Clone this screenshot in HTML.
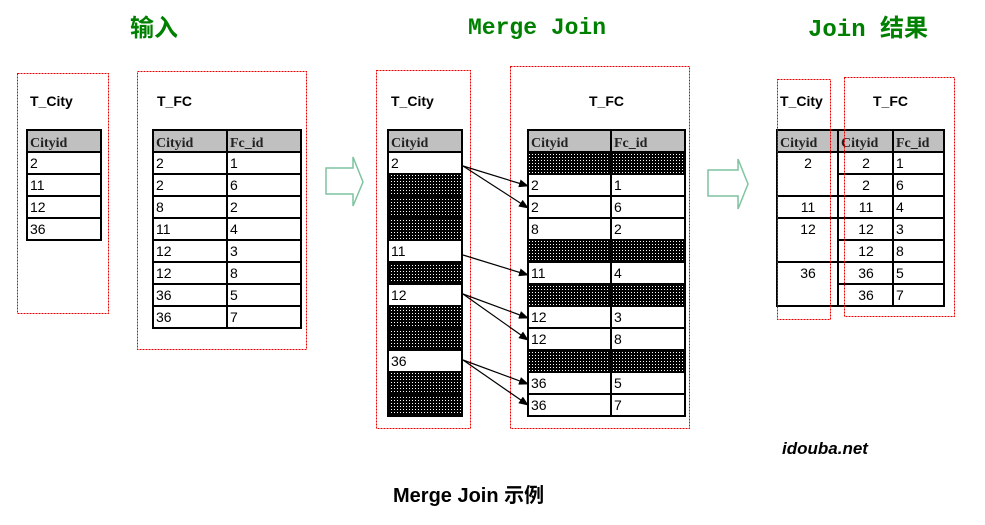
<!DOCTYPE html>
<html><head><meta charset="utf-8"><style>
html,body{margin:0;padding:0;background:#fff;width:985px;height:525px;overflow:hidden}
svg{display:block}
.h{font-family:"Liberation Serif",serif;font-weight:bold;font-size:14px;fill:#222}
.v{font-family:"Liberation Sans",sans-serif;font-size:14px;fill:#000}
.t{font-family:"Liberation Sans",sans-serif;font-weight:bold;font-size:14px;fill:#000}
.g{font-family:"Liberation Mono","Noto Sans CJK SC",monospace;font-weight:bold;font-size:23px;fill:#008000}
.b{fill:none;stroke:#e00;stroke-width:1;stroke-dasharray:2,1}
.c{fill:#fff;stroke:#000;stroke-width:2}
.hd{fill:#c0c0c0;stroke:#000;stroke-width:2}
.dk{fill:url(#dots);stroke:#000;stroke-width:2}
.a{stroke:#000;stroke-width:1.2;marker-end:url(#ah)}
</style></head><body>
<svg width="985" height="525" viewBox="0 0 985 525">
<defs>
<pattern id="dots" width="3" height="3" patternUnits="userSpaceOnUse"><rect width="3" height="3" fill="#000"/><rect x="1" y="1" width="1" height="1" fill="#fff"/></pattern>
<marker id="ah" markerWidth="10" markerHeight="8" refX="9" refY="4" orient="auto" markerUnits="userSpaceOnUse"><path d="M0,0 L10,4 L0,8z" fill="#000"/></marker>
</defs>
<text x="130" y="36" class="g" style="font-family:'Noto Sans CJK SC',sans-serif;font-size:24px">输入</text>
<text x="468" y="34" class="g">Merge Join</text>
<text x="808" y="36" class="g" style="font-size:24px">Join 结果</text>

<!-- left -->
<rect x="17.5" y="73.5" width="91" height="240" class="b"/>
<rect x="137.5" y="71.5" width="169" height="278" class="b"/>
<text x="30" y="106" class="t">T_City</text>
<text x="157" y="106" class="t">T_FC</text>
<rect x="27" y="130" width="74" height="22" class="hd"/><text x="30" y="147" class="h">Cityid</text>
<rect x="27" y="152" width="74" height="22" class="c"/><text x="30" y="168" class="v">2</text>
<rect x="27" y="174" width="74" height="22" class="c"/><text x="30" y="190" class="v">11</text>
<rect x="27" y="196" width="74" height="22" class="c"/><text x="30" y="212" class="v">12</text>
<rect x="27" y="218" width="74" height="22" class="c"/><text x="30" y="234" class="v">36</text>

<rect x="153" y="130" width="74" height="22" class="hd"/><text x="156" y="147" class="h">Cityid</text>
<rect x="227" y="130" width="74" height="22" class="hd"/><text x="230" y="147" class="h">Fc_id</text>
<g>
<rect x="153" y="152" width="74" height="22" class="c"/><rect x="227" y="152" width="74" height="22" class="c"/><text x="156" y="168" class="v">2</text><text x="230" y="168" class="v">1</text>
<rect x="153" y="174" width="74" height="22" class="c"/><rect x="227" y="174" width="74" height="22" class="c"/><text x="156" y="190" class="v">2</text><text x="230" y="190" class="v">6</text>
<rect x="153" y="196" width="74" height="22" class="c"/><rect x="227" y="196" width="74" height="22" class="c"/><text x="156" y="212" class="v">8</text><text x="230" y="212" class="v">2</text>
<rect x="153" y="218" width="74" height="22" class="c"/><rect x="227" y="218" width="74" height="22" class="c"/><text x="156" y="234" class="v">11</text><text x="230" y="234" class="v">4</text>
<rect x="153" y="240" width="74" height="22" class="c"/><rect x="227" y="240" width="74" height="22" class="c"/><text x="156" y="256" class="v">12</text><text x="230" y="256" class="v">3</text>
<rect x="153" y="262" width="74" height="22" class="c"/><rect x="227" y="262" width="74" height="22" class="c"/><text x="156" y="278" class="v">12</text><text x="230" y="278" class="v">8</text>
<rect x="153" y="284" width="74" height="22" class="c"/><rect x="227" y="284" width="74" height="22" class="c"/><text x="156" y="300" class="v">36</text><text x="230" y="300" class="v">5</text>
<rect x="153" y="306" width="74" height="22" class="c"/><rect x="227" y="306" width="74" height="22" class="c"/><text x="156" y="322" class="v">36</text><text x="230" y="322" class="v">7</text>
</g>

<!-- hollow arrows -->
<path d="M326,168 H353 V157 L363,182 L353,206 V194 H326 Z" fill="#fff" stroke="#7fc4a0" stroke-width="1.5"/>
<path d="M708,170 H738 V159 L748,184 L738,209 V196 H708 Z" fill="#fff" stroke="#7fc4a0" stroke-width="1.5"/>

<!-- middle -->
<rect x="376.5" y="70.5" width="94" height="358" class="b"/>
<rect x="510.5" y="66.5" width="179" height="362" class="b"/>
<text x="391" y="106" class="t">T_City</text>
<text x="589" y="106" class="t">T_FC</text>
<rect x="388" y="130" width="74" height="22" class="hd"/><text x="391" y="147" class="h">Cityid</text>
<rect x="388" y="152" width="74" height="22" class="c"/><text x="391" y="168" class="v">2</text>
<rect x="388" y="174" width="74" height="22" class="dk"/>
<rect x="388" y="196" width="74" height="22" class="dk"/>
<rect x="388" y="218" width="74" height="22" class="dk"/>
<rect x="388" y="240" width="74" height="22" class="c"/><text x="391" y="256" class="v">11</text>
<rect x="388" y="262" width="74" height="22" class="dk"/>
<rect x="388" y="284" width="74" height="22" class="c"/><text x="391" y="300" class="v">12</text>
<rect x="388" y="306" width="74" height="22" class="dk"/>
<rect x="388" y="328" width="74" height="22" class="dk"/>
<rect x="388" y="350" width="74" height="22" class="c"/><text x="391" y="366" class="v">36</text>
<rect x="388" y="372" width="74" height="22" class="dk"/>
<rect x="388" y="394" width="74" height="22" class="dk"/>

<rect x="528" y="130" width="83" height="22" class="hd"/><text x="531" y="147" class="h">Cityid</text>
<rect x="611" y="130" width="74" height="22" class="hd"/><text x="614" y="147" class="h">Fc_id</text>
<rect x="528" y="152" width="83" height="22" class="dk"/><rect x="611" y="152" width="74" height="22" class="dk"/>
<rect x="528" y="174" width="83" height="22" class="c"/><rect x="611" y="174" width="74" height="22" class="c"/><text x="531" y="190" class="v">2</text><text x="614" y="190" class="v">1</text>
<rect x="528" y="196" width="83" height="22" class="c"/><rect x="611" y="196" width="74" height="22" class="c"/><text x="531" y="212" class="v">2</text><text x="614" y="212" class="v">6</text>
<rect x="528" y="218" width="83" height="22" class="c"/><rect x="611" y="218" width="74" height="22" class="c"/><text x="531" y="234" class="v">8</text><text x="614" y="234" class="v">2</text>
<rect x="528" y="240" width="83" height="22" class="dk"/><rect x="611" y="240" width="74" height="22" class="dk"/>
<rect x="528" y="262" width="83" height="22" class="c"/><rect x="611" y="262" width="74" height="22" class="c"/><text x="531" y="278" class="v">11</text><text x="614" y="278" class="v">4</text>
<rect x="528" y="284" width="83" height="22" class="dk"/><rect x="611" y="284" width="74" height="22" class="dk"/>
<rect x="528" y="306" width="83" height="22" class="c"/><rect x="611" y="306" width="74" height="22" class="c"/><text x="531" y="322" class="v">12</text><text x="614" y="322" class="v">3</text>
<rect x="528" y="328" width="83" height="22" class="c"/><rect x="611" y="328" width="74" height="22" class="c"/><text x="531" y="344" class="v">12</text><text x="614" y="344" class="v">8</text>
<rect x="528" y="350" width="83" height="22" class="dk"/><rect x="611" y="350" width="74" height="22" class="dk"/>
<rect x="528" y="372" width="83" height="22" class="c"/><rect x="611" y="372" width="74" height="22" class="c"/><text x="531" y="388" class="v">36</text><text x="614" y="388" class="v">5</text>
<rect x="528" y="394" width="83" height="22" class="c"/><rect x="611" y="394" width="74" height="22" class="c"/><text x="531" y="410" class="v">36</text><text x="614" y="410" class="v">7</text>

<line x1="463" y1="166" x2="528" y2="186" class="a"/>
<line x1="463" y1="166" x2="528" y2="208" class="a"/>
<line x1="463" y1="255" x2="528" y2="275" class="a"/>
<line x1="463" y1="294" x2="528" y2="318" class="a"/>
<line x1="463" y1="294" x2="528" y2="340" class="a"/>
<line x1="463" y1="360" x2="528" y2="384" class="a"/>
<line x1="463" y1="360" x2="528" y2="405" class="a"/>

<!-- result -->
<rect x="777" y="130" width="61" height="22" class="hd"/><text x="780" y="147" class="h">Cityid</text>
<rect x="838" y="130" width="55" height="22" class="hd"/><text x="841" y="147" class="h">Cityid</text>
<rect x="893" y="130" width="51" height="22" class="hd"/><text x="896" y="147" class="h">Fc_id</text>
<rect x="777" y="152" width="61" height="44" class="c"/><text x="808" y="168" class="v" text-anchor="middle">2</text>
<rect x="777" y="196" width="61" height="22" class="c"/><text x="808" y="212" class="v" text-anchor="middle">11</text>
<rect x="777" y="218" width="61" height="44" class="c"/><text x="808" y="234" class="v" text-anchor="middle">12</text>
<rect x="777" y="262" width="61" height="44" class="c"/><text x="808" y="278" class="v" text-anchor="middle">36</text>
<g>
<rect x="838" y="152" width="55" height="22" class="c"/><rect x="893" y="152" width="51" height="22" class="c"/><text x="866" y="168" class="v" text-anchor="middle">2</text><text x="896" y="168" class="v">1</text>
<rect x="838" y="174" width="55" height="22" class="c"/><rect x="893" y="174" width="51" height="22" class="c"/><text x="866" y="190" class="v" text-anchor="middle">2</text><text x="896" y="190" class="v">6</text>
<rect x="838" y="196" width="55" height="22" class="c"/><rect x="893" y="196" width="51" height="22" class="c"/><text x="866" y="212" class="v" text-anchor="middle">11</text><text x="896" y="212" class="v">4</text>
<rect x="838" y="218" width="55" height="22" class="c"/><rect x="893" y="218" width="51" height="22" class="c"/><text x="866" y="234" class="v" text-anchor="middle">12</text><text x="896" y="234" class="v">3</text>
<rect x="838" y="240" width="55" height="22" class="c"/><rect x="893" y="240" width="51" height="22" class="c"/><text x="866" y="256" class="v" text-anchor="middle">12</text><text x="896" y="256" class="v">8</text>
<rect x="838" y="262" width="55" height="22" class="c"/><rect x="893" y="262" width="51" height="22" class="c"/><text x="866" y="278" class="v" text-anchor="middle">36</text><text x="896" y="278" class="v">5</text>
<rect x="838" y="284" width="55" height="22" class="c"/><rect x="893" y="284" width="51" height="22" class="c"/><text x="866" y="300" class="v" text-anchor="middle">36</text><text x="896" y="300" class="v">7</text>
</g>
<rect x="777.5" y="79.5" width="53" height="240" class="b"/>
<rect x="844.5" y="77.5" width="110" height="239" class="b"/>
<text x="780" y="106" class="t">T_City</text>
<text x="873" y="106" class="t">T_FC</text>

<text x="782" y="454" class="t" style="font-style:italic;font-size:17px">idouba.net</text>
<text x="393" y="502" style="font-family:'Liberation Sans','Noto Sans CJK SC',sans-serif;font-weight:bold;font-size:20px">Merge Join 示例</text>
</svg>
</body></html>
